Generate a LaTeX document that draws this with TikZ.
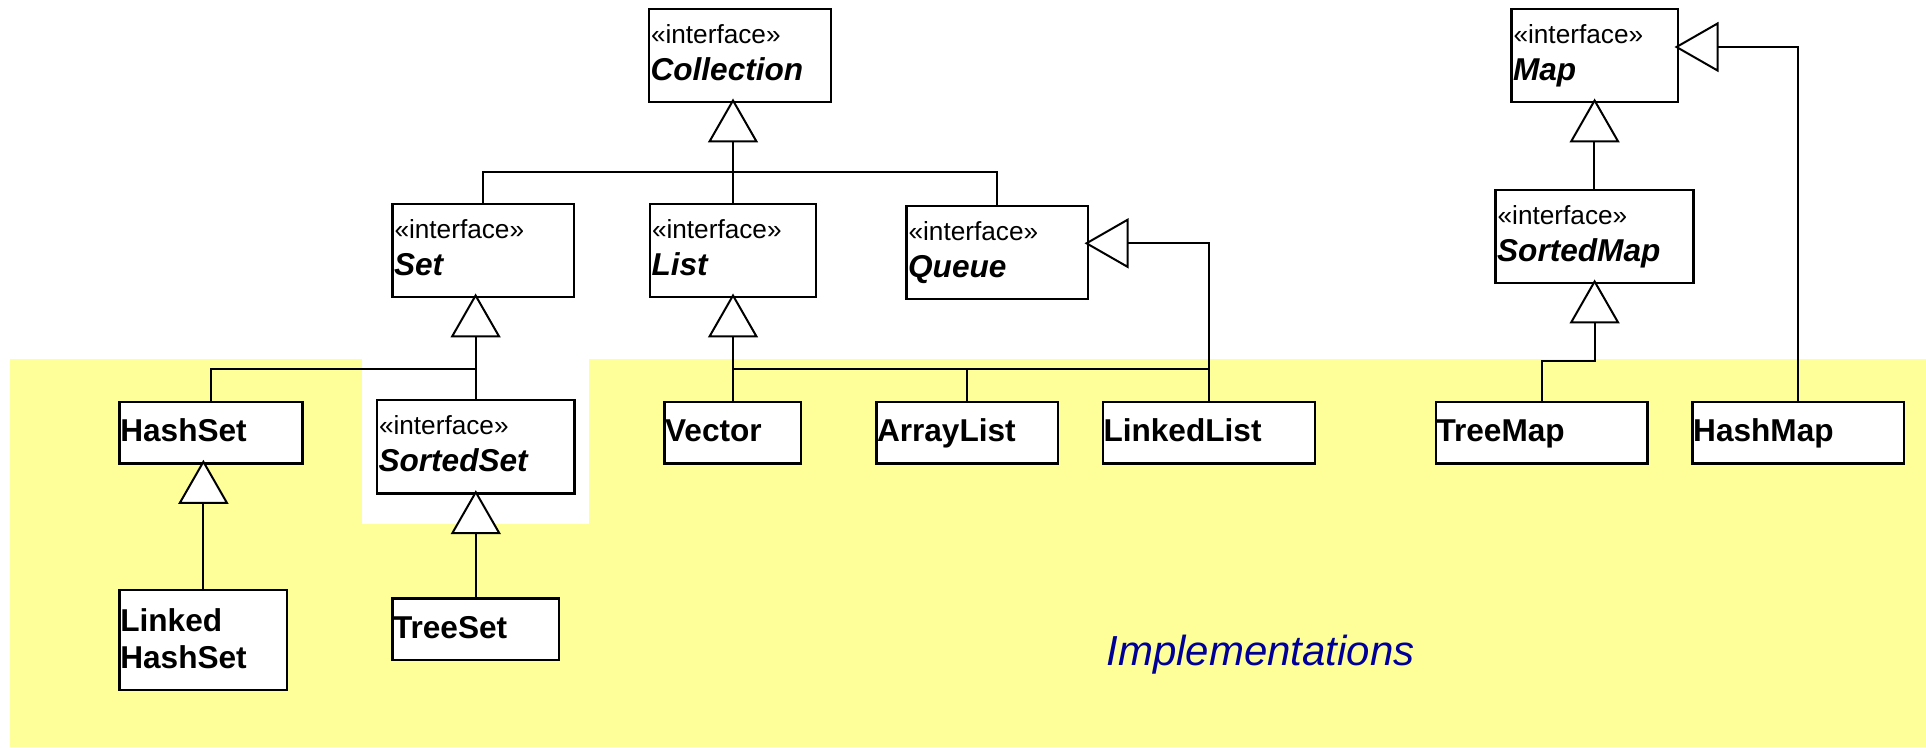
\documentclass[tikz,border=0pt]{standalone}
\usepackage{fontspec}
\setmainfont{Liberation Sans}
\usetikzlibrary{fit,calc}

\definecolor{implbg}{HTML}{FFFF99}
\definecolor{impltext}{HTML}{000099}

\tikzset{
  umlbox/.style={draw=black, fill=white, line width=1.4pt, inner sep=0pt},
  stereo/.style={anchor=base west, inner sep=0pt, font=\fontsize{13.1}{15}\selectfont},
  ifname/.style={anchor=base west, inner sep=0pt, font=\fontsize{15.8}{18}\selectfont\bfseries\itshape},
  clname/.style={anchor=base west, inner sep=0pt, font=\fontsize{15.8}{18}\selectfont\bfseries},
  link/.style={draw=black, line width=1pt},
  genhead/.style={draw=black, fill=white, line width=1pt, line join=miter},
  areatitle/.style={anchor=base west, inner sep=0pt, text=impltext,
    font=\fontsize{21}{25}\selectfont\itshape},
}

% plain box spanning two corners
\newcommand\umlrect[5]{\node[umlbox, fit={(#2,#3) (#4,#5)}] (#1) {};}
% interface box: stereotype line plus italic name
\newcommand\umliface[6]{%
  \umlrect{#1}{#2}{#3}{#4}{#5}
  \node[stereo] (#1-st) at ($(#1.north west)+(3,36)$) {«interface»};
  \node[ifname] (#1-nm) at ($(#1.north west)+(2.5,73)$) {#6};}
% implementation class box
\newcommand\umlclass[6]{%
  \umlrect{#1}{#2}{#3}{#4}{#5}
  \node[clname] (#1-nm) at ($(#1.north west)+(1.5,41)$) {#6};}
% hollow generalisation heads
\newcommand\headup[1]{\draw[genhead] (#1) -- ++(-23.5,41) -- ++(47,0) -- cycle;}
\newcommand\headleft[1]{\draw[genhead] (#1) -- ++(41,-23.5) -- ++(0,47) -- cycle;}

\begin{document}
\begin{tikzpicture}[x=0.5pt, y=-0.5pt]
\useasboundingbox (0,0) rectangle (1926,748);

% implementation area
\fill[implbg] (9.8,359) rectangle (1926,747);
\fill[white] (362,359) rectangle (589,523.5);

% attachment points of the generalisation heads
\coordinate (coll-tip) at (733,100.5);   \coordinate (coll-base) at (733,141.5);
\coordinate (set-tip)  at (475.6,295.5); \coordinate (set-base)  at (475.6,336.5);
\coordinate (list-tip) at (733,295.5);   \coordinate (list-base) at (733,336.5);
\coordinate (queue-tip) at (1086.5,243.3); \coordinate (queue-base) at (1127.5,243.3);
\coordinate (map-rtip) at (1676.5,47);   \coordinate (map-rbase) at (1717.5,47);
\coordinate (map-tip)  at (1594.6,100.5); \coordinate (map-base) at (1594.6,141.5);
\coordinate (smap-tip) at (1594.6,281.5); \coordinate (smap-base) at (1594.6,322.5);
\coordinate (hset-tip) at (203.4,461.8); \coordinate (hset-base) at (203.4,502.8);
\coordinate (sset-tip) at (475.8,492.2); \coordinate (sset-base) at (475.8,533.2);
\coordinate (collbus) at (733,172);
\coordinate (setbus)  at (475.6,369);
\coordinate (listbus) at (733,369);
\coordinate (smapbus) at (1594.6,361);

% boxes
\umliface{coll}{649}{9}{831}{102}{Collection}
\umliface{set}{392.5}{204}{574}{297}{Set}
\umliface{list}{650}{204}{816}{297}{List}
\umliface{queue}{906.6}{206}{1088}{299}{Queue}
\umliface{map}{1511.5}{9}{1678}{102}{Map}
\umliface{smap}{1495.6}{190}{1693.3}{283}{SortedMap}
\umliface{sset}{377}{400}{574.7}{493.7}{SortedSet}
\umlclass{hset}{119.8}{402}{302.2}{463.3}{HashSet}
\umlclass{vector}{664.6}{402}{801}{463.3}{Vector}
\umlclass{alist}{876.5}{402}{1058}{463.3}{ArrayList}
\umlclass{llist}{1103}{402}{1315}{463.3}{LinkedList}
\umlclass{tmap}{1436}{402}{1647.3}{463.3}{TreeMap}
\umlclass{hmap}{1692.7}{402}{1904}{463.3}{HashMap}
\umlclass{tset}{392.5}{598.7}{559}{660}{TreeSet}
\umlrect{lhset}{119.8}{590}{286.9}{690}
\node[clname] (lhset-nm1) at ($(lhset.north west)+(1.5,42.5)$) {Linked};
\node[clname] (lhset-nm2) at ($(lhset.north west)+(1.5,80)$) {HashSet};

% connectors
\draw[link] (set.north) |- (collbus) -| (queue.north);
\draw[link] (list.north) -- (coll-base);
\draw[link] (sset.north) -- (sset.north |- set-base);
\draw[link] (hset.north) |- (setbus);
\draw[link] (vector.north) -- (vector.north |- list-base);
\draw[link] (listbus) -- (listbus -| llist.north);
\draw[link] (alist.north) -- (alist.north |- listbus);
\draw[link] (llist.north) |- (queue-base);
\draw[link] (lhset.north) -- (lhset.north |- hset-base);
\draw[link] (tset.north) -- (tset.north |- sset-base);
\draw[link] (smap.north) -- (smap.north |- map-base);
\draw[link] (hmap.north) |- (map-rbase);
\draw[link] (tmap.north) |- (smapbus) -- (smap-base);

% generalisation heads
\headup{coll-tip}
\headup{set-tip}
\headup{list-tip}
\headup{map-tip}
\headup{smap-tip}
\headup{hset-tip}
\headup{sset-tip}
\headleft{queue-tip}
\headleft{map-rtip}

\node[areatitle] (impl) at (1106,665) {Implementations};
\end{tikzpicture}
\end{document}
